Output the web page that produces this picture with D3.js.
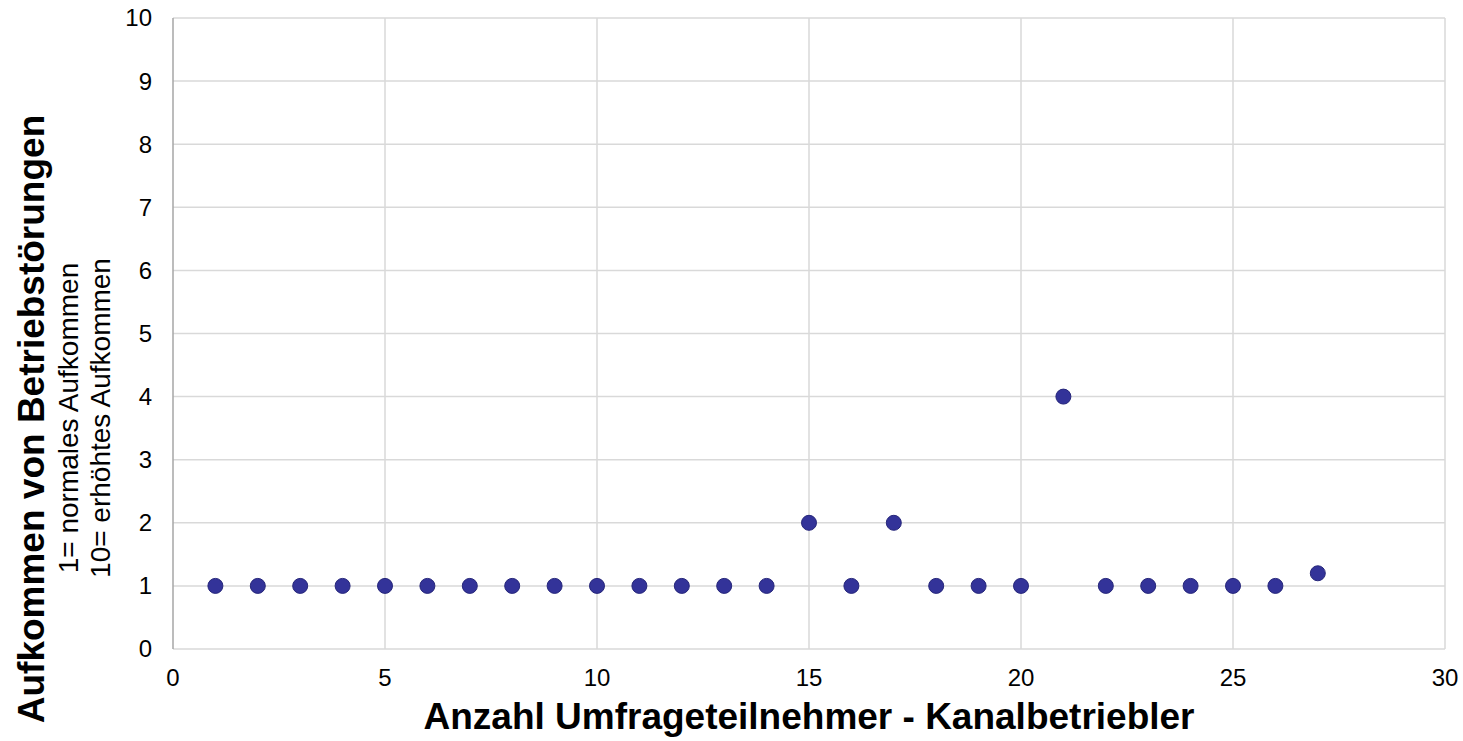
<!DOCTYPE html>
<html>
<head>
<meta charset="utf-8">
<script src="https://cdn.jsdelivr.net/npm/d3@7"></script>
<style>
  body { margin: 0; background: #fff; }
  text { font-family: "Liberation Sans", Arial, sans-serif; }
</style>
</head>
<body>
<div id="chart"></div>
<script>
// participants (x) and reported level of disruptions (y)
const participants = [1, 2, 3, 4, 5, 6, 7, 8, 9, 10, 11, 12, 13, 14, 15, 16, 17, 18, 19, 20, 21, 22, 23, 24, 25, 26, 27];
const disruptions = [1, 1, 1, 1, 1, 1, 1, 1, 1, 1, 1, 1, 1, 1, 2, 1, 2, 1, 1, 1, 4, 1, 1, 1, 1, 1, 1.2];
const xTicks = [0, 5, 10, 15, 20, 25, 30];
const yTicks = [0, 1, 2, 3, 4, 5, 6, 7, 8, 9, 10];

const W = 1463, H = 741;
const margin = {top: 18, right: 18, bottom: 92, left: 173};

const svg = d3.select("#chart").append("svg")
    .attr("width", W)
    .attr("height", H);

const x = d3.scaleLinear().domain([0, 30]).range([margin.left, W - margin.right]);
const y = d3.scaleLinear().domain([0, 10]).range([H - margin.bottom, margin.top]);

// gridlines
svg.append("g").selectAll("line.v")
    .data(xTicks.filter(d => d > 0))
    .join("line")
    .attr("x1", d => x(d)).attr("x2", d => x(d))
    .attr("y1", y(0)).attr("y2", y(10))
    .attr("stroke", "#d9d9d9").attr("stroke-width", 1.5);

svg.append("g").selectAll("line.h")
    .data(yTicks.filter(d => d > 0))
    .join("line")
    .attr("x1", x(0)).attr("x2", x(30))
    .attr("y1", d => y(d)).attr("y2", d => y(d))
    .attr("stroke", "#d9d9d9").attr("stroke-width", 1.5);

// axes lines
svg.append("line")
    .attr("x1", x(0)).attr("x2", x(30))
    .attr("y1", y(0)).attr("y2", y(0))
    .attr("stroke", "#d9d9d9").attr("stroke-width", 1.5);
svg.append("line")
    .attr("x1", x(0)).attr("x2", x(0))
    .attr("y1", y(0)).attr("y2", y(10))
    .attr("stroke", "#a6a6a6").attr("stroke-width", 1.5);

// tick labels
svg.append("g").selectAll("text")
    .data(yTicks)
    .join("text")
    .attr("x", x(0) - 21)
    .attr("y", d => y(d))
    .attr("dy", "0.35em")
    .attr("text-anchor", "end")
    .attr("font-size", 24)
    .attr("fill", "#000")
    .text(d => d);

svg.append("g").selectAll("text")
    .data(xTicks)
    .join("text")
    .attr("x", d => x(d))
    .attr("y", 686)
    .attr("text-anchor", "middle")
    .attr("font-size", 24)
    .attr("fill", "#000")
    .text(d => d);

// points
svg.append("g").selectAll("circle")
    .data(participants.map((p, i) => ({x: p, y: disruptions[i]})))
    .join("circle")
    .attr("cx", d => x(d.x))
    .attr("cy", d => y(d.y))
    .attr("r", 7.5)
    .attr("fill", "#333399")
    .attr("stroke", "#26267a")
    .attr("stroke-width", 1);

// axis titles
svg.append("text")
    .attr("x", (x(0) + x(30)) / 2)
    .attr("y", 729)
    .attr("text-anchor", "middle")
    .attr("font-size", 37)
    .attr("font-weight", "bold")
    .text("Anzahl Umfrageteilnehmer - Kanalbetriebler");

const yTitle = svg.append("g")
    .attr("transform", "translate(0," + 419 + ") rotate(-90)");
yTitle.append("text")
    .attr("x", 0).attr("y", 43.5)
    .attr("text-anchor", "middle")
    .attr("font-size", 37)
    .attr("font-weight", "bold")
    .text("Aufkommen von Betriebstörungen");
yTitle.append("text")
    .attr("x", 1).attr("y", 77.5)
    .attr("text-anchor", "middle")
    .attr("font-size", 28)
    .text("1= normales Aufkommen");
yTitle.append("text")
    .attr("x", 1).attr("y", 110)
    .attr("text-anchor", "middle")
    .attr("font-size", 28)
    .text("10= erhöhtes Aufkommen");
</script>
</body>
</html>
